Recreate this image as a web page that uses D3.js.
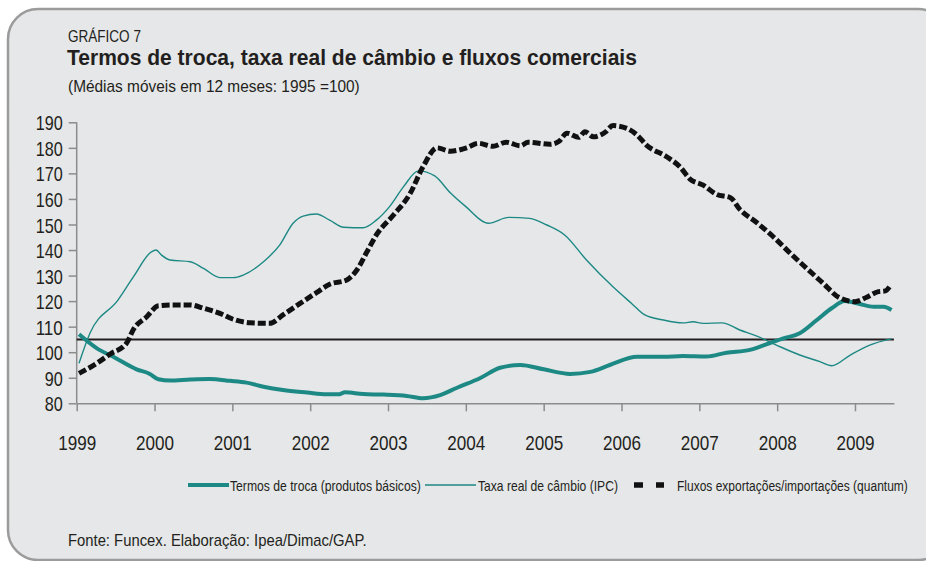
<!DOCTYPE html>
<html>
<head>
<meta charset="utf-8">
<script src="https://cdn.jsdelivr.net/npm/d3@7"></script>
<style>
  body { margin: 0; background: #fff; }
  svg text { font-family: "Liberation Sans", Arial, sans-serif; fill: #231f20; }
</style>
</head>
<body>
<svg id="chart" width="926" height="561"></svg>
<script>
const yTicks = [80, 90, 100, 110, 120, 130, 140, 150, 160, 170, 180, 190];
const xYears = [1999, 2000, 2001, 2002, 2003, 2004, 2005, 2006, 2007, 2008, 2009];
const refLine = 105;

// [ano (fração), índice]
const termosTroca = [
  [1999.03, 107], [1999.26, 101.5], [1999.47, 98.2], [1999.77, 93.3], [1999.94, 91.5],
  [2000.05, 89.4], [2000.2, 88.9], [2000.46, 89.3], [2000.71, 89.5], [2000.97, 88.8],
  [2001.18, 88.1], [2001.4, 86.5], [2001.65, 85.2], [2001.96, 84.2], [2002.21, 83.5],
  [2002.36, 83.5], [2002.45, 84.3], [2002.68, 83.6], [2002.94, 83.4], [2003.24, 82.9],
  [2003.45, 82], [2003.67, 83.2], [2003.88, 86], [2004.18, 89.8], [2004.44, 93.9],
  [2004.7, 95], [2005.0, 93.3], [2005.34, 91.5], [2005.6, 92.3], [2005.85, 95],
  [2006.2, 98.2], [2006.54, 98.2], [2006.79, 98.5], [2007.09, 98.3], [2007.35, 99.8],
  [2007.65, 100.9], [2007.86, 103.1], [2008.08, 105.4], [2008.29, 107.4], [2008.51, 112.6],
  [2008.7, 117.2], [2008.87, 120], [2009.06, 118.9], [2009.24, 117.8], [2009.37, 117.8],
  [2009.47, 116.5]
];

const taxaCambio = [
  [1999.03, 95.7], [1999.17, 107.4], [1999.53, 120.4], [1999.73, 129.6], [1999.96, 139.3],
  [2000.02, 140], [2000.09, 138], [2000.2, 136.1], [2000.46, 135.4], [2000.63, 132.8],
  [2000.84, 129.2], [2001.01, 129.2], [2001.14, 130.2], [2001.4, 135.4], [2001.61, 142],
  [2001.78, 150.5], [2001.91, 153.3], [2002.08, 154.1], [2002.25, 151.7], [2002.43, 148.9],
  [2002.68, 148.7], [2002.85, 151.7], [2003.02, 157], [2003.2, 164.8], [2003.39, 171],
  [2003.6, 169], [2003.8, 162.4], [2004.0, 157], [2004.29, 150.5], [2004.55, 152.8],
  [2004.82, 152.4], [2005.04, 149.8], [2005.27, 145.9], [2005.55, 136.1], [2005.89, 125.6],
  [2006.13, 119.1], [2006.3, 114.6], [2006.54, 112.6], [2006.79, 111.5], [2006.92, 111.9],
  [2007.05, 111.3], [2007.29, 111.5], [2007.52, 108.7], [2007.74, 106.3], [2007.99, 102.8],
  [2008.29, 98.9], [2008.55, 96.3], [2008.7, 94.7], [2008.94, 98.9], [2009.19, 102.8],
  [2009.47, 105.2]
];

const fluxos = [
  [1999.03, 91.7], [1999.26, 95.7], [1999.43, 99.3], [1999.64, 103.5], [1999.73, 109],
  [1999.9, 113.9], [2000.05, 118.2], [2000.24, 118.5], [2000.46, 118.5], [2000.63, 117.2],
  [2000.84, 115.2], [2001.01, 112.9], [2001.23, 111.5], [2001.48, 111.3], [2001.65, 114.6],
  [2001.87, 119.1], [2002.08, 123.3], [2002.25, 126.6], [2002.47, 128.3], [2002.6, 132.2],
  [2002.73, 139.3], [2002.85, 145.9], [2003.07, 153.7], [2003.28, 161.9], [2003.45, 172.6],
  [2003.63, 180], [2003.8, 178.7], [2004.01, 180], [2004.16, 181.8], [2004.35, 180.6],
  [2004.52, 182.2], [2004.7, 180.8], [2004.8, 182.2], [2005.08, 181.4], [2005.19, 182.4],
  [2005.3, 185.7], [2005.45, 184.1], [2005.53, 186.3], [2005.64, 184.3], [2005.79, 186.1],
  [2005.89, 188.7], [2006.07, 187.6], [2006.2, 185], [2006.32, 181.1], [2006.58, 176.5],
  [2006.75, 172.6], [2006.88, 167.8], [2007.05, 165.4], [2007.22, 161.8], [2007.4, 160.5],
  [2007.52, 155.9], [2007.74, 150.7], [2007.95, 145.2], [2008.17, 138.7], [2008.38, 132.8],
  [2008.59, 127], [2008.79, 121.5], [2009.0, 119.8], [2009.15, 121.5], [2009.3, 123.7],
  [2009.39, 124], [2009.45, 125.9]
];

const legendLabels = [
  "Termos de troca (produtos básicos)",
  "Taxa real de câmbio (IPC)",
  "Fluxos exportações/importações (quantum)"
];

const teal = "#1d8985";
const svg = d3.select("#chart");

// texto estreito (a fonte original é condensada): escala horizontal até a largura w
function narrow(sel, w) {
  const n = sel.node().getComputedTextLength();
  const x0 = +sel.attr("x");
  sel.attr("transform", `translate(${x0},0) scale(${w / n},1) translate(${-x0},0)`);
  return sel;
}

// moldura
svg.append("rect")
  .attr("x", 8).attr("y", 9)
  .attr("width", 940).attr("height", 551)
  .attr("rx", 30).attr("ry", 30)
  .attr("fill", "#e6e7e8")
  .attr("stroke", "#9b9b9b")
  .attr("stroke-width", 2.5);

// títulos
narrow(svg.append("text").attr("x", 68).attr("y", 42)
  .attr("font-size", "16.5px").text("GRÁFICO 7"), 73);
narrow(svg.append("text").attr("x", 67).attr("y", 65)
  .attr("font-family", "'Open Sans', sans-serif")
  .attr("font-weight", "bold")
  .attr("font-size", "22px").text("Termos de troca, taxa real de câmbio e fluxos comerciais"), 570);
narrow(svg.append("text").attr("x", 68).attr("y", 92)
  .attr("font-size", "16px").text("(Médias móveis em 12 meses: 1995 =100)"), 292);

// escalas
const x = d3.scaleLinear().domain([1999, 2009.5]).range([76.7, 893.9]);
const y = d3.scaleLinear().domain([80, 190]).range([403.3, 122.3]);

const yAxis = svg.append("g")
  .attr("transform", "translate(76.7,0)")
  .call(d3.axisLeft(y).tickValues(yTicks).tickSize(8).tickPadding(6));
yAxis.selectAll("text")
  .attr("font-size", "21px")
  .attr("fill", "#231f20").attr("dy", "0.36em")
  .attr("textLength", d => String(d).length * 9)
  .attr("lengthAdjust", "spacingAndGlyphs");

const xAxis = svg.append("g")
  .attr("transform", "translate(0,403.3)")
  .call(d3.axisBottom(x).tickValues(xYears).tickFormat(d3.format("d"))
    .tickSize(8).tickPadding(24).tickSizeOuter(0));
xAxis.selectAll("text")
  .attr("font-size", "21px")
  .attr("fill", "#231f20")
  .attr("textLength", 38)
  .attr("lengthAdjust", "spacingAndGlyphs");
svg.selectAll("g").attr("font-family", null);

svg.selectAll(".domain, .tick line").attr("stroke", "#8c8c8c").attr("stroke-width", 1.5);
yAxis.select(".domain").attr("d", `M0,${y(190)}V${y(80)}`);

// linha de referência
svg.append("line")
  .attr("x1", x(1999)).attr("x2", x(2009.5))
  .attr("y1", y(refLine)).attr("y2", y(refLine))
  .attr("stroke", "#231f20").attr("stroke-width", 2);

const line = d3.line()
  .x(d => x(d[0]))
  .y(d => y(d[1]))
  .curve(d3.curveMonotoneX);

svg.append("path").datum(taxaCambio)
  .attr("d", line).attr("fill", "none")
  .attr("stroke", teal).attr("stroke-width", 1.4);

svg.append("path").datum(termosTroca)
  .attr("d", line).attr("fill", "none")
  .attr("stroke", teal).attr("stroke-width", 4);

svg.append("path").datum(fluxos)
  .attr("d", line).attr("fill", "none")
  .attr("stroke", "#111").attr("stroke-width", 5)
  .attr("stroke-dasharray", "8,3");

// legenda
const ly = 485;
const leg = svg.append("g").attr("font-size", "15px");
leg.append("line").attr("x1", 188).attr("x2", 229).attr("y1", ly).attr("y2", ly)
  .attr("stroke", teal).attr("stroke-width", 4);
narrow(leg.append("text").attr("x", 230).attr("y", ly + 6).text(legendLabels[0]), 191);
leg.append("line").attr("x1", 425).attr("x2", 476).attr("y1", ly).attr("y2", ly)
  .attr("stroke", teal).attr("stroke-width", 1.4);
narrow(leg.append("text").attr("x", 478).attr("y", ly + 6).text(legendLabels[1]), 140);
leg.append("line").attr("x1", 634).attr("x2", 664).attr("y1", ly).attr("y2", ly)
  .attr("stroke", "#111").attr("stroke-width", 5.5)
  .attr("stroke-dasharray", "9,13");
narrow(leg.append("text").attr("x", 677).attr("y", ly + 6).text(legendLabels[2]), 231);

// fonte
narrow(svg.append("text").attr("x", 68).attr("y", 546)
  .attr("font-size", "16px").text("Fonte: Funcex. Elaboração: Ipea/Dimac/GAP."), 299);
</script>
</body>
</html>
